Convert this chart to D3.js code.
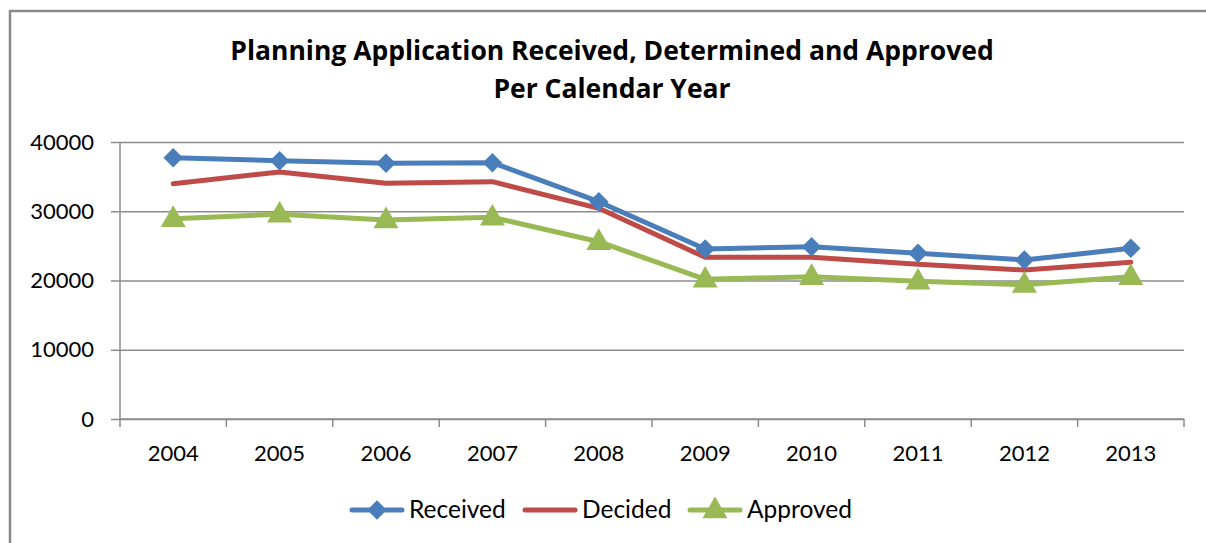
<!DOCTYPE html>
<html>
<head>
<meta charset="utf-8">
<script src="https://cdn.jsdelivr.net/npm/d3@7"></script>
<style>
  body { margin: 0; background: #fff; }
  svg { display: block; font-family: Lato, "Open Sans", sans-serif; }
</style>
</head>
<body>
<div id="chart"></div>
<script>
var years = ["2004", "2005", "2006", "2007", "2008", "2009", "2010", "2011", "2012", "2013"];
var received = [37740, 37300, 36920, 37010, 31380, 24550, 24880, 23930, 22960, 24650];
var decided  = [33980, 35670, 34030, 34270, 30420, 23350, 23350, 22340, 21520, 22630];
var approved = [28920, 29560, 28740, 29120, 25600, 20170, 20550, 19880, 19400, 20550];
var yTicks = [0, 10000, 20000, 30000, 40000];
var titleLines = ["Planning Application Received, Determined and Approved", "Per Calendar Year"];

function drawChart() {
    var W = 1206, H = 543;
    var margin = {top: 142, right: 22, bottom: 124, left: 120};
    var width = W - margin.left - margin.right;
    var height = H - margin.top - margin.bottom;

    var svg = d3.select("#chart").append("svg")
        .attr("width", W)
        .attr("height", H);

    // outer chart border (runs off the right and bottom edges)
    svg.append("path")
        .attr("d", "M10," + (H + 5) + "V11H" + (W + 5))
        .attr("fill", "none")
        .attr("stroke", "#898989")
        .attr("stroke-width", 2.5);

    svg.selectAll(".title")
        .data(titleLines)
        .enter().append("text")
        .attr("x", 612)
        .attr("y", function(d, i) { return 60 + i * 38; })
        .attr("text-anchor", "middle")
        .style("font-family", "'Open Sans', sans-serif")
        .style("font-size", "26.5px")
        .style("font-weight", "bold")
        .style("fill", "#000")
        .text(function(d) { return d; });

    var g = svg.append("g")
        .attr("transform", "translate(" + margin.left + "," + margin.top + ")");

    var x = d3.scaleBand().domain(years).range([0, width]);
    var y = d3.scaleLinear().domain([0, 40000]).range([height, 0]);

    // gridlines
    g.append("g")
        .call(d3.axisLeft(y).tickValues(yTicks).tickSize(-width).tickFormat(""))
        .call(function(s) {
            s.select(".domain").remove();
            s.selectAll("line").attr("stroke", "#8c8c8c").attr("stroke-width", 1.5);
        });

    // y axis
    g.append("g")
        .call(d3.axisLeft(y).tickValues(yTicks).tickSize(9).tickPadding(17).tickFormat(d3.format("d")))
        .call(function(s) {
            s.select(".domain").attr("stroke", "#8c8c8c").attr("stroke-width", 1.5).attr("d", "M0," + height + "V0");
            s.selectAll("line").attr("stroke", "#8c8c8c").attr("stroke-width", 1.5);
            s.selectAll("text").style("font-size", "22px").style("fill", "#000")
                .style("font-family", "Lato, 'Open Sans', sans-serif");
        });

    // x axis with tick marks at category boundaries
    var xAxis = g.append("g").attr("transform", "translate(0," + height + ")");
    xAxis.append("line")
        .attr("x1", 0).attr("x2", width)
        .attr("stroke", "#8c8c8c").attr("stroke-width", 1.5);
    var bounds = years.map(function(d) { return x(d); }).concat([width]);
    xAxis.selectAll(".xt")
        .data(bounds)
        .enter().append("line")
        .attr("x1", function(d) { return d; })
        .attr("x2", function(d) { return d; })
        .attr("y1", 0).attr("y2", 8)
        .attr("stroke", "#8c8c8c").attr("stroke-width", 1.5);
    xAxis.selectAll(".xl")
        .data(years)
        .enter().append("text")
        .attr("x", function(d) { return x(d) + x.bandwidth() / 2; })
        .attr("y", 42)
        .attr("text-anchor", "middle")
        .style("font-size", "22px")
        .style("fill", "#000")
        .text(function(d) { return d; });

    var series = [
        { label: "Received", values: received, color: "#4a7ebb", marker: "diamond" },
        { label: "Decided", values: decided, color: "#be4b48", marker: null },
        { label: "Approved", values: approved, color: "#98b954", marker: "triangle" }
    ];

    var line = d3.line()
        .x(function(d, i) { return x(years[i]) + x.bandwidth() / 2; })
        .y(function(d) { return y(d); });

    var symbols = {
        diamond: d3.symbol().type(d3.symbolSquare).size(190),
        triangle: d3.symbol().type(d3.symbolTriangle).size(270)
    };

    series.forEach(function(s) {
        g.append("path")
            .datum(s.values)
            .attr("d", line)
            .attr("fill", "none")
            .attr("stroke", s.color)
            .attr("stroke-width", 5)
            .attr("stroke-linecap", "round")
            .attr("stroke-linejoin", "round");
    });

    series.forEach(function(s) {
        if (!s.marker) return;
        g.selectAll(".m-" + s.label)
            .data(s.values)
            .enter().append("path")
            .attr("d", symbols[s.marker])
            .attr("transform", function(d, i) {
                var t = "translate(" + (x(years[i]) + x.bandwidth() / 2) + "," + y(d) + ")";
                return s.marker === "diamond" ? t + " rotate(45)" : t + " translate(0,1)";
            })
            .attr("fill", s.color);
    });

    // legend
    var legendX = [350, 523, 688];
    var legend = svg.append("g").attr("transform", "translate(0,510)");
    series.forEach(function(s, i) {
        var lg = legend.append("g").attr("transform", "translate(" + legendX[i] + ",0)");
        lg.append("line")
            .attr("x1", 2).attr("x2", 52)
            .attr("stroke", s.color)
            .attr("stroke-width", 5)
            .attr("stroke-linecap", "round");
        if (s.marker) {
            lg.append("path")
                .attr("d", symbols[s.marker])
                .attr("transform", "translate(27,0)" + (s.marker === "diamond" ? " rotate(45)" : " translate(0,1)"))
                .attr("fill", s.color);
        }
        lg.append("text")
            .attr("x", 59)
            .attr("y", 8)
            .style("font-size", "24.5px")
            .style("fill", "#000")
            .text(s.label);
    });
}

drawChart();
</script>
</body>
</html>
